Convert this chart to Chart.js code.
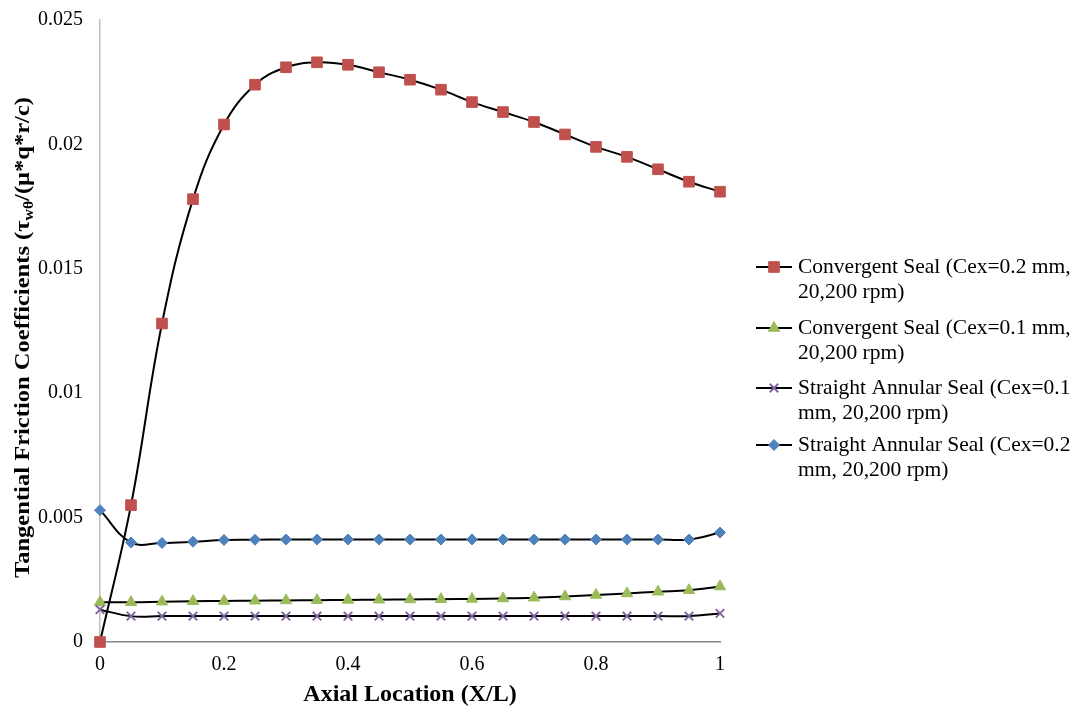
<!DOCTYPE html>
<html>
<head>
<meta charset="utf-8">
<script src="https://cdn.jsdelivr.net/npm/chart.js@4.4.1/dist/chart.umd.min.js"></script>
<style>
  html, body { margin: 0; padding: 0; background: #fff; }
  #wrap { width: 1075px; height: 709px; position: relative; }
</style>
</head>
<body>
<div id="wrap"><canvas id="chart"></canvas></div>
<script>
// axial positions X/L
const xLocations = [0, 0.05, 0.1, 0.15, 0.2, 0.25, 0.3, 0.35, 0.4, 0.45, 0.5,
  0.55, 0.6, 0.65, 0.7, 0.75, 0.8, 0.85, 0.9, 0.95, 1];

const convergent02 = [0, 0.0055, 0.0128, 0.0178, 0.0208, 0.0224, 0.0231, 0.0233, 0.0232, 0.0229, 0.0226,
  0.0222, 0.0217, 0.0213, 0.0209, 0.0204, 0.0199, 0.0195, 0.0190, 0.0185, 0.0181];
const convergent01 = [0.0016, 0.0016, 0.00162, 0.00164, 0.00165, 0.00166, 0.00167, 0.00168, 0.00169, 0.0017, 0.00171,
  0.00172, 0.00173, 0.00175, 0.00178, 0.00183, 0.00189, 0.00195, 0.00202, 0.00208, 0.00223];
const straight01 = [0.0013, 0.00104, 0.00104, 0.00104, 0.00104, 0.00104, 0.00104, 0.00104, 0.00104, 0.00104, 0.00104,
  0.00104, 0.00104, 0.00104, 0.00104, 0.00104, 0.00104, 0.00104, 0.00104, 0.00104, 0.00115];
const straight02 = [0.0053, 0.0040, 0.00398, 0.00403, 0.0041, 0.00411, 0.00412, 0.00412, 0.00412, 0.00412, 0.00412,
  0.00412, 0.00412, 0.00412, 0.00412, 0.00412, 0.00412, 0.00412, 0.00412, 0.00412, 0.0044];

const seriesNames = [
  ["Convergent Seal (Cex=0.2 mm,", "20,200 rpm)"],
  ["Convergent Seal (Cex=0.1 mm,", "20,200 rpm)"],
  ["Straight Annular Seal (Cex=0.1", "mm, 20,200 rpm)"],
  ["Straight Annular Seal (Cex=0.2", "mm, 20,200 rpm)"]
];
const xTicks = [0, 0.2, 0.4, 0.6, 0.8, 1];
const yTicks = [0, 0.005, 0.01, 0.015, 0.02, 0.025];

const serif = "'Liberation Serif', 'Times New Roman', serif";

function pts(vals) {
  return vals.map((v, i) => ({ x: xLocations[i], y: v }));
}

function makeSet(name, vals, color, style, radius, order) {
  return {
    label: name.join(" "),
    data: pts(vals),
    borderColor: "#000",
    borderWidth: 2,
    tension: 0.4,
    clip: false,
    pointStyle: style,
    pointRadius: radius,
    pointBackgroundColor: color,
    pointBorderColor: color,
    pointBorderWidth: style === "crossRot" ? 2 : 1,
    order: order
  };
}

// excel "General" look: 0.02 not 0.020, 1 not 1.0
const general = v => String(+Number(v).toFixed(4));

// y title with subscript, drawn by hand and stretched to the excel length
const yTitle = {
  id: "yTitle",
  afterDraw(chart) {
    const ctx = chart.ctx;
    const big = "bold 22px " + serif, small = "bold 14px " + serif;
    const parts = [
      ["Tangential Friction Coefficients (\u03c4", big, 0],
      ["w\u03b8", small, 4],
      ["/(\u03bc*q*r/c)", big, 0]
    ];
    ctx.save();
    let total = 0;
    parts.forEach(p => { ctx.font = p[1]; total += ctx.measureText(p[0]).width; });
    const top = 97, bottom = 578;
    ctx.translate(29, (top + bottom) / 2);
    ctx.rotate(-Math.PI / 2);
    ctx.scale((bottom - top) / total, 1);
    ctx.fillStyle = "#000";
    ctx.textBaseline = "alphabetic";
    let x = -total / 2;
    parts.forEach(p => {
      ctx.font = p[1];
      ctx.fillText(p[0], x, p[2]);
      x += ctx.measureText(p[0]).width;
    });
    ctx.restore();
  }
};

// two-line legend on the right
const sideLegend = {
  id: "sideLegend",
  afterDraw(chart) {
    const ctx = chart.ctx;
    const helpers = Chart.helpers;
    const tops = [267, 328, 388, 445];
    ctx.save();
    chart.data.datasets.forEach((ds, i) => {
      const y = tops[i];
      ctx.strokeStyle = "#000";
      ctx.lineWidth = 2;
      ctx.beginPath();
      ctx.moveTo(756, y);
      ctx.lineTo(792, y);
      ctx.stroke();
      ctx.fillStyle = ds.pointBackgroundColor;
      ctx.strokeStyle = ds.pointBorderColor;
      ctx.lineWidth = ds.pointBorderWidth;
      helpers.drawPoint(ctx, { pointStyle: ds.pointStyle, radius: ds.pointRadius, borderWidth: ds.pointBorderWidth, rotation: 0 }, 774, y);
      ctx.fillStyle = "#000";
      ctx.font = "21.5px " + serif;
      ctx.textBaseline = "middle";
      seriesNames[i].forEach((line, k) => ctx.fillText(line, 798, y + k * 25));
    });
    ctx.restore();
  }
};

new Chart(document.getElementById("chart"), {
  type: "line",
  data: {
    datasets: [
      makeSet(seriesNames[0], convergent02, "#C0504D", "rect", 7.5, 4),
      makeSet(seriesNames[1], convergent01, "#9BBB59", "triangle", 6.5, 3),
      makeSet(seriesNames[2], straight01, "#8064A2", "crossRot", 6, 2),
      makeSet(seriesNames[3], straight02, "#4F81BD", "rectRot", 5.5, 1)
    ]
  },
  options: {
    responsive: true,
    maintainAspectRatio: false,
    animation: false,
    layout: { padding: { left: 0, top: 20, right: 355, bottom: 0 } },
    plugins: {
      legend: { display: false },
      tooltip: { enabled: false }
    },
    scales: {
      x: {
        type: "linear",
        min: 0,
        max: 1,
        afterBuildTicks: s => { s.ticks = xTicks.map(v => ({ value: v })); },
        grid: { display: false, drawTicks: false },
        border: { color: "#868686", width: 1.5 },
        ticks: { font: { family: serif, size: 20 }, color: "#000", padding: 11, callback: general },
        title: {
          display: true,
          text: "Axial Location (X/L)",
          font: { family: serif, size: 24, weight: "bold" },
          color: "#000",
          padding: { top: 4, bottom: 0 }
        },
        afterFit: s => { s.height = 67; }
      },
      y: {
        min: 0,
        max: 0.025,
        afterBuildTicks: s => { s.ticks = yTicks.map(v => ({ value: v })); },
        grid: { display: false, drawTicks: false },
        border: { color: "#BFBFBF", width: 1.5 },
        ticks: { font: { family: serif, size: 20 }, color: "#000", padding: 17, callback: general },
        afterFit: s => { s.width = 100; s.paddingTop = 0; s.paddingBottom = 0; }
      }
    }
  },
  plugins: [yTitle, sideLegend]
});
</script>
</body>
</html>
